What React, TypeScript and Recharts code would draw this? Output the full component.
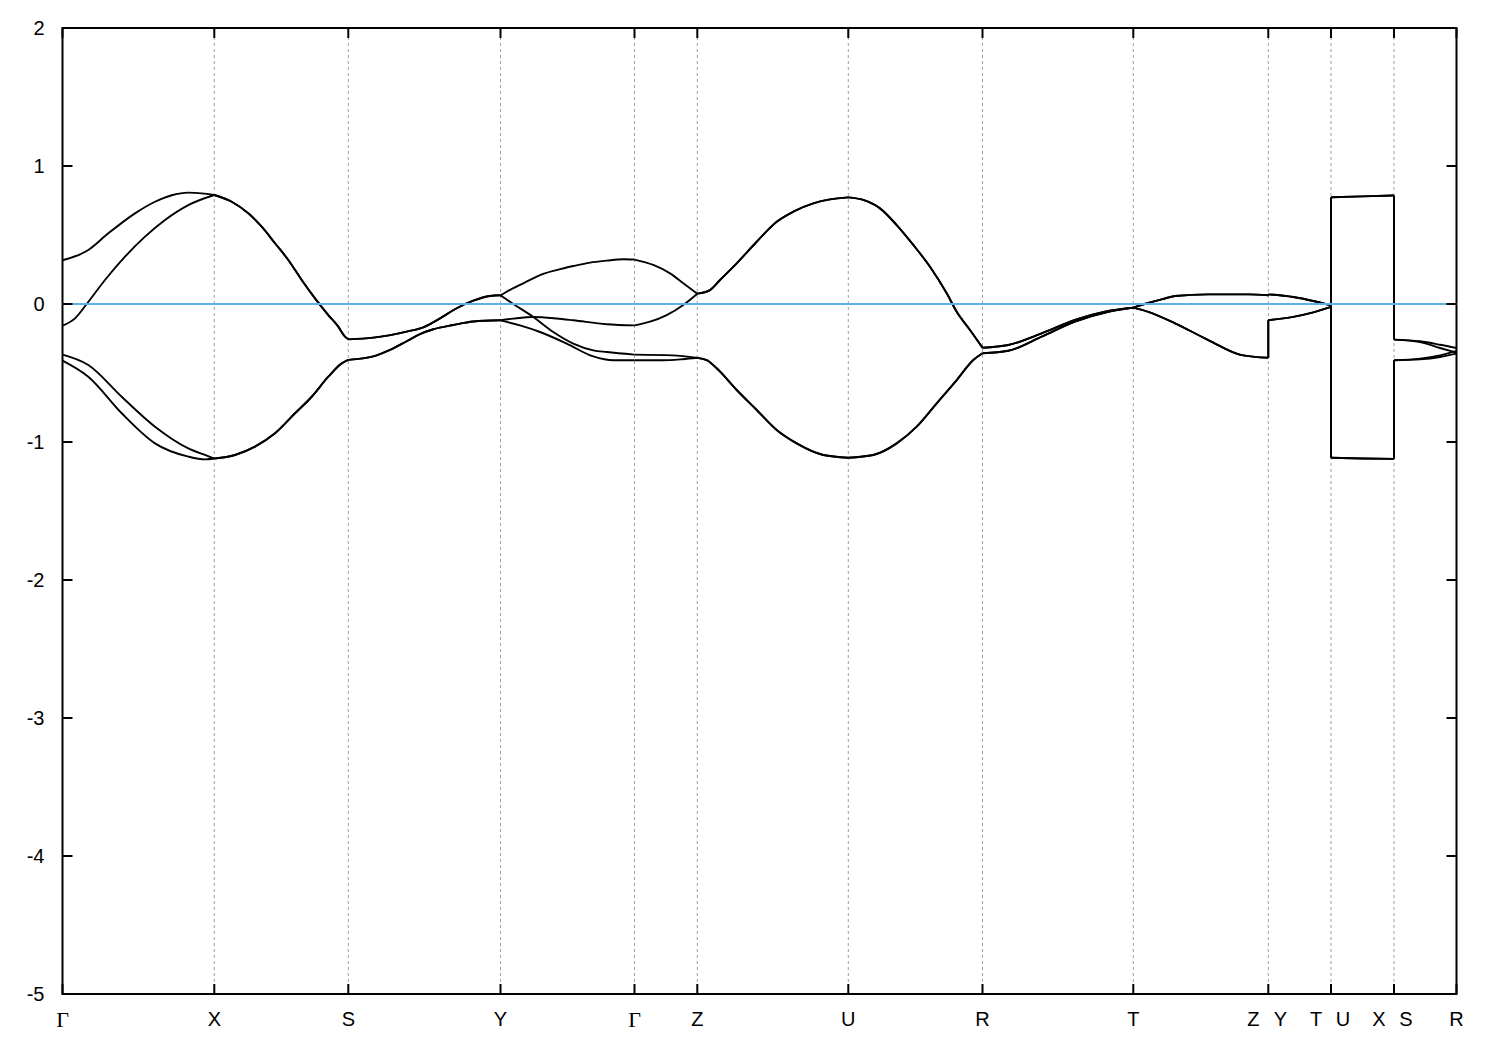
import React from "react";
import { LineChart, Line, XAxis, YAxis, ReferenceLine, ReferenceArea } from "recharts";

// High-symmetry path positions (k distance) and labels
const kTicks = [0, 1.518, 2.858, 4.38, 5.72, 6.348, 7.858, 9.2, 10.708, 12.058, 12.685, 13.315, 13.94];
const kLabels = ["Γ", "X", "S", "Y", "Γ", "Z", "U", "R", "T", "Z|Y", "T|U", "X|S", "R"];
const eTicks = [-5, -4, -3, -2, -1, 0, 1, 2];
const K_END = 13.94;

// Band segments: [k, E]
const A_GX = [[0, 0.317], [0.258, 0.391], [0.458, 0.512], [0.725, 0.657], [0.925, 0.741], [1.092, 0.788], [1.258, 0.807], [1.392, 0.802], [1.518, 0.79]];
const B_GX = [[0, -0.157], [0.125, -0.104], [0.242, 0], [0.425, 0.174], [0.625, 0.343], [0.825, 0.488], [1.025, 0.609], [1.258, 0.717], [1.518, 0.79]];
const C_GX = [[0, -0.367], [0.258, -0.442], [0.592, -0.672], [0.925, -0.889], [1.258, -1.046], [1.425, -1.094], [1.518, -1.12]];
const D_GX = [[0, -0.41], [0.258, -0.527], [0.592, -0.792], [0.925, -1.01], [1.258, -1.106], [1.425, -1.126], [1.518, -1.12]];

const XS_UP = [[1.518, 0.79], [1.692, 0.741], [1.858, 0.657], [1.992, 0.56], [2.125, 0.44], [2.258, 0.319], [2.392, 0.174], [2.525, 0.041], [2.658, -0.08], [2.758, -0.164], [2.825, -0.237], [2.858, -0.256]];
const XS_LO = [[1.518, -1.12], [1.725, -1.094], [1.925, -1.034], [2.125, -0.937], [2.325, -0.792], [2.492, -0.672], [2.658, -0.527], [2.792, -0.43], [2.858, -0.405]];

const SY_UP = [[2.858, -0.256], [3.108, -0.244], [3.442, -0.2], [3.608, -0.169], [3.775, -0.104], [3.942, -0.031], [4.108, 0.024], [4.275, 0.058], [4.38, 0.063]];
const SY_LO = [[2.858, -0.405], [3.108, -0.38], [3.275, -0.333], [3.442, -0.27], [3.575, -0.218], [3.708, -0.183], [3.908, -0.152], [4.108, -0.127], [4.38, -0.118]];

const A_YG = [[4.38, 0.063], [4.442, 0.089], [4.608, 0.15], [4.775, 0.21], [4.942, 0.246], [5.108, 0.275], [5.275, 0.3], [5.442, 0.314], [5.608, 0.324], [5.72, 0.322]];
const B_YG = [[4.38, 0.063], [4.508, 0.0], [4.708, -0.094], [4.908, -0.203], [5.108, -0.287], [5.308, -0.336], [5.442, -0.348], [5.72, -0.367]];
const C_YG = [[4.38, -0.118], [4.508, -0.106], [4.708, -0.094], [4.942, -0.105], [5.108, -0.118], [5.442, -0.147], [5.72, -0.155]];
const D_YG = [[4.38, -0.118], [4.575, -0.155], [4.775, -0.203], [5.042, -0.287], [5.308, -0.38], [5.508, -0.408], [5.72, -0.408]];

const A_GZ = [[5.72, 0.322], [5.908, 0.283], [6.075, 0.222], [6.208, 0.15], [6.348, 0.075]];
const B_GZ = [[5.72, -0.367], [6.1, -0.372], [6.348, -0.39]];
const C_GZ = [[5.72, -0.155], [5.875, -0.128], [6.042, -0.08], [6.208, -0.007], [6.348, 0.075]];
const D_GZ = [[5.72, -0.408], [6.0, -0.408], [6.2, -0.4], [6.348, -0.39]];

const ZU_UP = [[6.348, 0.075], [6.475, 0.101], [6.575, 0.174], [6.742, 0.295], [6.942, 0.451], [7.142, 0.596], [7.308, 0.669], [7.508, 0.729], [7.675, 0.758], [7.858, 0.773]];
const ZU_LO = [[6.348, -0.39], [6.442, -0.406], [6.542, -0.466], [6.742, -0.623], [6.942, -0.768], [7.142, -0.913], [7.342, -1.01], [7.608, -1.094], [7.858, -1.114]];

const UR_UP = [[7.858, 0.773], [8.008, 0.754], [8.175, 0.693], [8.342, 0.572], [8.508, 0.428], [8.675, 0.27], [8.842, 0.078], [8.942, -0.056], [9.075, -0.188], [9.2, -0.317]];
const UR_LO = [[7.858, -1.114], [8.108, -1.094], [8.342, -1.01], [8.542, -0.889], [8.742, -0.72], [8.942, -0.551], [9.108, -0.406], [9.2, -0.357]];

const RT_UP = [[9.2, -0.317], [9.458, -0.297], [9.792, -0.213], [10.125, -0.116], [10.458, -0.05], [10.708, -0.026]];
const RT_LO = [[9.2, -0.357], [9.458, -0.339], [9.792, -0.237], [10.125, -0.128], [10.458, -0.057], [10.708, -0.026]];

const TZ_UP = [[10.708, -0.026], [10.858, 0.007], [11.0, 0.035], [11.125, 0.058], [11.458, 0.07], [11.858, 0.07], [12.058, 0.063]];
const TZ_LO = [[10.708, -0.026], [10.858, -0.057], [11.125, -0.14], [11.458, -0.261], [11.792, -0.37], [12.058, -0.39]];

const YT_UP = [[12.058, 0.07], [12.308, 0.051], [12.508, 0.022], [12.685, -0.01]];
const YT_LO = [[12.058, -0.117], [12.308, -0.093], [12.508, -0.061], [12.685, -0.021]];

const UX_UP = [[12.685, 0.773], [13.0, 0.78], [13.315, 0.786]];
const UX_LO = [[12.685, -1.114], [13.0, -1.12], [13.315, -1.122]];

const SR_A = [[13.315, -0.258], [13.575, -0.27], [13.775, -0.295], [13.94, -0.319]];
const SR_B = [[13.315, -0.258], [13.575, -0.276], [13.775, -0.319], [13.94, -0.352]];
const SR_C = [[13.315, -0.408], [13.575, -0.396], [13.775, -0.372], [13.94, -0.34]];
const SR_D = [[13.315, -0.408], [13.575, -0.401], [13.775, -0.384], [13.94, -0.36]];

// Four bands, each as a list of path segments
const bandSegments = [
  [A_GX, XS_UP, SY_UP, A_YG, A_GZ, ZU_UP, UR_UP, RT_UP, TZ_UP, YT_UP, UX_UP, SR_A],
  [B_GX, XS_UP, SY_UP, B_YG, B_GZ, ZU_LO, UR_LO, RT_LO, TZ_LO, YT_LO, UX_UP, SR_B],
  [C_GX, XS_LO, SY_LO, C_YG, C_GZ, ZU_UP, UR_UP, RT_UP, TZ_UP, YT_UP, UX_LO, SR_C],
  [D_GX, XS_LO, SY_LO, D_YG, D_GZ, ZU_LO, UR_LO, RT_LO, TZ_LO, YT_LO, UX_LO, SR_D],
];

const toPts = (seg: number[][]) => seg.map(([k, e]) => ({ k, e }));

// smooth pieces and the straight connectors across discontinuities of the path
const pieces: { k: number; e: number }[][] = [];
const jumps: { k: number; e: number }[][] = [];
bandSegments.forEach((segs) => {
  segs.forEach((seg, i) => {
    pieces.push(toPts(seg));
    if (i > 0) {
      const prev = segs[i - 1][segs[i - 1].length - 1];
      const cur = seg[0];
      if (prev[0] !== cur[0] || prev[1] !== cur[1]) {
        jumps.push(toPts([prev, cur]));
      }
    }
  });
});

const SANS = "'Liberation Sans', Arial, Helvetica, sans-serif";
const SERIF = "'Liberation Serif', 'Times New Roman', serif";

const TICK_E = 0.0725; // inward tick length in energy units (~10px)
const TICK_K = 0.1; // inward tick length in k units (~10px)
const LW = 1.9;

function XTick(props: any) {
  const { x, y, payload } = props;
  const idx = kTicks.findIndex((t) => Math.abs(t - payload.value) < 1e-6);
  const lab = idx >= 0 ? kLabels[idx] : "";
  const parts = lab.split("|");
  const renderOne = (s: string, dx: number, key: string) => (
    <text
      key={key}
      x={x + dx}
      y={y + 25}
      textAnchor="middle"
      dominantBaseline="central"
      fontFamily={s === "Γ" ? SERIF : SANS}
      fontSize={s === "Γ" ? 22 : 20}
      fill="#000"
    >
      {s}
    </text>
  );
  if (parts.length === 2) {
    return (
      <g>
        {renderOne(parts[0], -15, "a")}
        {renderOne(parts[1], 12, "b")}
      </g>
    );
  }
  return <g>{renderOne(lab, 0, "a")}</g>;
}

function YTick(props: any) {
  const { x, y, payload } = props;
  return (
    <text x={x - 18} y={y} textAnchor="end" dominantBaseline="central" fontFamily={SANS} fontSize={20} fill="#000">
      {payload.value}
    </text>
  );
}

export default function App() {
  const inner = kTicks.slice(1, -1);
  return (
    <LineChart width={1480} height={1030} margin={{ top: 20, right: 31.5, bottom: 4, left: 4.5 }}>
      <XAxis
        type="number"
        dataKey="k"
        domain={[0, K_END]}
        ticks={kTicks}
        interval={0}
        tick={(p: any) => <XTick {...p} />}
        tickSize={0}
        tickMargin={0}
        axisLine={false}
        tickLine={false}
        height={40}
        allowDataOverflow
      />
      <YAxis
        type="number"
        domain={[-5, 2]}
        ticks={eTicks}
        interval={0}
        tick={(p: any) => <YTick {...p} />}
        tickSize={0}
        tickMargin={0}
        axisLine={false}
        tickLine={false}
        width={50}
        allowDataOverflow
      />
      {inner.map((k, i) => (
        <ReferenceLine key={"g" + i} x={k} stroke="#a0a0a0" strokeWidth={1} strokeDasharray="3 3" />
      ))}
      {pieces.map((d, i) => (
        <Line
          key={"p" + i}
          data={d}
          dataKey="e"
          type="monotoneX"
          stroke="#000"
          strokeWidth={LW}
          dot={false}
          activeDot={false}
          isAnimationActive={false}
        />
      ))}
      {jumps.map((d, i) => (
        <Line
          key={"j" + i}
          data={d}
          dataKey="e"
          type="linear"
          stroke="#000"
          strokeWidth={LW}
          dot={false}
          activeDot={false}
          isAnimationActive={false}
        />
      ))}
      <ReferenceLine y={0} stroke="#56b4e9" strokeWidth={2} />
      {kTicks.map((k, i) => (
        <ReferenceLine key={"tb" + i} segment={[{ x: k, y: -5 }, { x: k, y: -5 + TICK_E }]} stroke="#000" strokeWidth={2} />
      ))}
      {kTicks.map((k, i) => (
        <ReferenceLine key={"tt" + i} segment={[{ x: k, y: 2 }, { x: k, y: 2 - TICK_E }]} stroke="#000" strokeWidth={2} />
      ))}
      {eTicks.map((e, i) => (
        <ReferenceLine key={"tl" + i} segment={[{ x: 0, y: e }, { x: TICK_K, y: e }]} stroke="#000" strokeWidth={2} />
      ))}
      {eTicks.map((e, i) => (
        <ReferenceLine key={"tr" + i} segment={[{ x: K_END, y: e }, { x: K_END - TICK_K, y: e }]} stroke="#000" strokeWidth={2} />
      ))}
      <ReferenceArea x1={0} x2={K_END} y1={-5} y2={2} fill="none" fillOpacity={0} stroke="#000" strokeWidth={2} strokeOpacity={1} />
    </LineChart>
  );
}
